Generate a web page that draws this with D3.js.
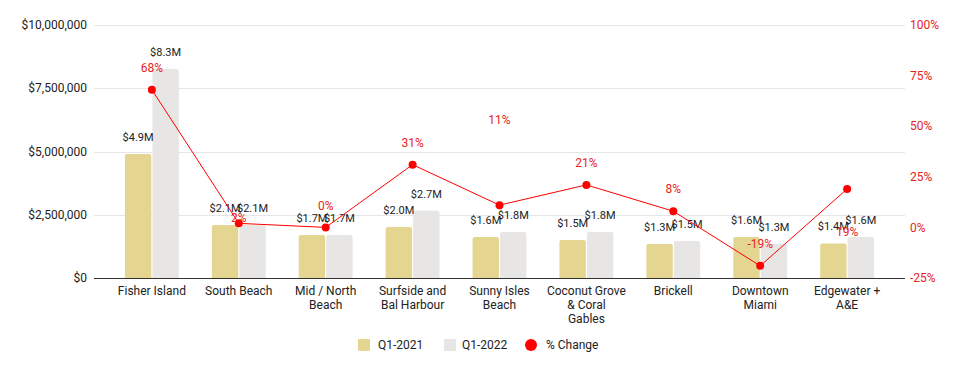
<!doctype html>
<html>
<head>
<meta charset="utf-8">
<title>Median sale price Q1-2021 vs Q1-2022</title>
<script src="https://d3js.org/d3.v7.min.js"></script>
<style>
  body { margin: 0; background: #fff; }
  text { font-family: Roboto, Arial, sans-serif; }
</style>
</head>
<body>
<svg id="chart" width="962" height="371"></svg>
<script>
// data
var categories = ["Fisher Island", "South Beach", "Mid / North\nBeach", "Surfside and\nBal Harbour",
  "Sunny Isles\nBeach", "Coconut Grove\n& Coral\nGables", "Brickell", "Downtown\nMiami", "Edgewater +\nA&E"];
var q2021 = [4900000, 2090000, 1700000, 2020000, 1620000, 1500000, 1340000, 1620000, 1360000];
var q2022 = [8260000, 2100000, 1700000, 2660000, 1820000, 1820000, 1460000, 1340000, 1620000];
var pctChange = [68, 2, 0, 31, 11, 21, 8, -19, 19];
var leftTicks = [0, 2500000, 5000000, 7500000, 10000000];
var rightTicks = [-25, 0, 25, 50, 75, 100];
var seriesNames = ["Q1-2021", "Q1-2022"];

var gold = "#e4d591", grey = "#e8e6e5", red = "#ff0000", redText = "#e8231d", ink = "#222";

// label offsets for the % labels (px), same as where the original put them
var pctLabelDy = [-22, -6, -22, -22, -85, -22, -22, -22, 43];

var svg = d3.select("#chart");
var plotL = 94, plotR = 905, plotT = 25, plotB = 278;

var x = d3.scaleBand().domain(d3.range(categories.length)).range([plotL, plotR])
  .paddingInner(0.38).paddingOuter(0.356);
var x1 = d3.scaleBand().domain([0, 1]).range([0, x.bandwidth()]).paddingInner(0.04);
var y = d3.scaleLinear().domain([0, 10000000]).range([plotB, plotT]);
var y2 = d3.scaleLinear().domain([-25, 100]).range([plotB, plotT]);

// gridlines
svg.append("g").selectAll("line").data(leftTicks.slice(1)).join("line")
  .attr("x1", plotL).attr("x2", plotR)
  .attr("y1", function(d) { return Math.round(y(d)) + 0.5; })
  .attr("y2", function(d) { return Math.round(y(d)) + 0.5; })
  .attr("stroke", "#e6e6e6").attr("stroke-width", 1);

// left axis labels
svg.append("g").selectAll("text").data(leftTicks).join("text")
  .attr("x", 87).attr("y", function(d) { return y(d); }).attr("dy", "0.35em")
  .attr("text-anchor", "end").attr("font-size", 12).attr("fill", ink)
  .text(function(d) { return "$" + d3.format(",")(d); });

// right axis labels
svg.append("g").selectAll("text").data(rightTicks).join("text")
  .attr("x", 910).attr("y", function(d) { return y2(d); }).attr("dy", "0.35em")
  .attr("text-anchor", "start").attr("font-size", 12).attr("fill", redText)
  .text(function(d) { return d + "%"; });

// bars
function barPath(x0, w, yTop, yBase) {
  var r = Math.min(2, (yBase - yTop) / 2);
  return "M" + x0 + "," + yBase + "V" + (yTop + r) + "Q" + x0 + "," + yTop + " " + (x0 + r) + "," + yTop +
    "H" + (x0 + w - r) + "Q" + (x0 + w) + "," + yTop + " " + (x0 + w) + "," + (yTop + r) + "V" + yBase + "Z";
}
var series = [q2021, q2022];
var colors = [gold, grey];
var groups = svg.append("g").selectAll("g").data(categories).join("g")
  .attr("transform", function(d, i) { return "translate(" + x(i) + ",0)"; });

groups.each(function(d, i) {
  var g = d3.select(this);
  series.forEach(function(s, k) {
    g.append("path")
      .attr("d", barPath(x1(k), x1.bandwidth(), y(s[i]), plotB))
      .attr("fill", colors[k]);
  });
});
groups.each(function(d, i) {
  var g = d3.select(this);
  series.forEach(function(s, k) {
    g.append("text")
      .attr("x", x1(k) + x1.bandwidth() / 2).attr("y", y(s[i]) - 17).attr("dy", "0.35em")
      .attr("text-anchor", "middle").attr("font-size", 11).attr("fill", ink)
      .text("$" + (s[i] / 1e6).toFixed(1) + "M");
  });
});

// x axis line
svg.append("line").attr("x1", plotL).attr("x2", plotR).attr("y1", plotB + 0.5).attr("y2", plotB + 0.5)
  .attr("stroke", "#333").attr("stroke-width", 1);

// category labels
svg.append("g").selectAll("text").data(categories).join("text")
  .attr("text-anchor", "middle").attr("font-size", 12).attr("fill", ink)
  .each(function(d, i) {
    var t = d3.select(this);
    d.split("\n").forEach(function(line, j) {
      t.append("tspan").attr("x", x(i) + x.bandwidth() / 2).attr("y", 291 + j * 14)
        .attr("dy", "0.35em").text(line);
    });
  });

// % change line
var cx = function(i) { return x(i) + x.bandwidth() / 2; };
svg.append("path").datum(pctChange)
  .attr("d", d3.line().x(function(d, i) { return cx(i); }).y(function(d) { return y2(d); }))
  .attr("fill", "none").attr("stroke", red).attr("stroke-width", 1);
svg.append("g").selectAll("circle").data(pctChange).join("circle")
  .attr("cx", function(d, i) { return cx(i); }).attr("cy", function(d) { return y2(d); })
  .attr("r", 4).attr("fill", red);
svg.append("g").selectAll("text").data(pctChange).join("text")
  .attr("x", function(d, i) { return cx(i); })
  .attr("y", function(d, i) { return y2(d) + pctLabelDy[i]; }).attr("dy", "0.35em")
  .attr("text-anchor", "middle").attr("font-size", 12).attr("fill", redText)
  .text(function(d) { return d + "%"; });

// legend
var legend = svg.append("g").attr("transform", "translate(0,345)");
var legItems = [
  { name: seriesNames[0], color: gold, sx: 358, tx: 378, type: "rect" },
  { name: seriesNames[1], color: grey, sx: 444, tx: 462, type: "rect" },
  { name: "% Change", color: red, sx: 525, tx: 546, type: "circle" }
];
legItems.forEach(function(it) {
  if (it.type === "rect") {
    legend.append("rect").attr("x", it.sx).attr("y", -6).attr("width", 12).attr("height", 12)
      .attr("rx", 1).attr("fill", it.color);
  } else {
    legend.append("circle").attr("cx", it.sx + 6).attr("cy", 0).attr("r", 6).attr("fill", it.color);
  }
  legend.append("text").attr("x", it.tx).attr("y", 0).attr("dy", "0.35em")
    .attr("font-size", 12).attr("fill", ink).text(it.name);
});
</script>
</body>
</html>
